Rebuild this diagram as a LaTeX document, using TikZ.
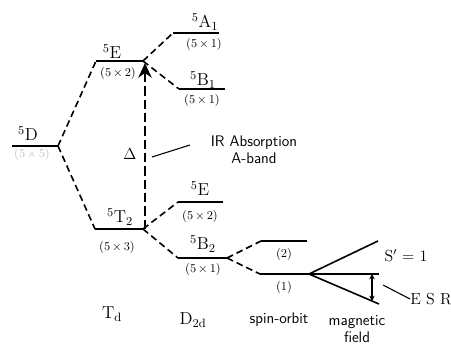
\documentclass[tikz,border=0pt]{standalone}
\usepackage{tikz}
\usetikzlibrary{arrows.meta,positioning}
\tikzset{
myLevel/.style={line width=1.2pt},
myLink/.style={line width=1.2pt,dash pattern=on 5pt off 3pt},
myPump/.style={line width=1.8pt,dash pattern=on 7pt off 3pt,
	-{Stealth[length=11pt,width=10pt]}},
myTerm/.style={inner sep=0pt,font=\fontsize{13}{13}\selectfont},
myDeg/.style={inner sep=0pt,font=\fontsize{9}{9}\selectfont},
myText/.style={inner sep=0pt,font=\sffamily\fontsize{11.5}{13}\selectfont,align=center},
myLabel/.style={inner sep=0pt,font=\fontsize{12}{13}\selectfont,align=center}
}

\begin{document}
\begin{tikzpicture}[x=0.75pt,y=-0.75pt]
	\useasboundingbox (0,0) rectangle (451,347);
	% level end points
	\coordinate (DL) at (12,146);   \coordinate (DR) at (58,146);
	\coordinate (EL) at (96,61);    \coordinate (ER) at (143,61);
	\coordinate (TL) at (95,229);   \coordinate (TR) at (143,229);
	\coordinate (AL) at (173,33);   \coordinate (AR) at (219,33);
	\coordinate (BL) at (179,89);   \coordinate (BR) at (225,89);
	\coordinate (E2L) at (178,202); \coordinate (E2R) at (223,202);
	\coordinate (B2L) at (178,258); \coordinate (B2R) at (227,258);
	\coordinate (SuL) at (261,241); \coordinate (SuR) at (307,241);
	\coordinate (SlL) at (260,274); \coordinate (SlR) at (309,274);
	\coordinate (Mup) at (378,241); \coordinate (Mmid) at (379,274);
	\coordinate (Mlo) at (379,304);
	% levels
	\foreach \a/\b in {DL/DR,EL/ER,TL/TR,AL/AR,BL/BR,E2L/E2R,B2L/B2R,SuL/SuR,SlL/SlR}
		\draw[myLevel] (\a) -- (\b);
	% correlation lines
	\draw[myLink] (DR) -- (EL);
	\draw[myLink] (DR) -- (TL);
	\draw[myLink] (ER) -- (AL);
	\draw[myLink] (ER) -- (BL);
	\draw[myLink] (TR) -- (E2L);
	\draw[myLink] (TR) -- (B2L);
	\draw[myLink] (B2R) -- (SuL);
	\draw[myLink] (B2R) -- (SlL);
	% magnetic field
	\draw[myLevel] (SlR) -- (Mup);
	\draw[myLevel] (SlR) -- (Mmid);
	\draw[myLevel] (SlR) -- (Mlo);
	\path (SlR) -- (Mlo) coordinate[pos=0.9] (MloA);
	\path (SlR) -- (Mmid) coordinate[pos=0.9] (MmidA);
	\draw[thick,{Stealth[length=4pt,width=4pt]}-{Stealth[length=4pt,width=4pt]}] (MmidA) -- (MloA);
	% absorption
	\coordinate (PumpTop) at (145,63);
	\coordinate (PumpBot) at (145,229);
	\draw[myPump] (PumpBot) -- (PumpTop);
	% terms
	\node[myTerm] (Dlab) at (28,134) {$^5$D};
	\node[myDeg,text=black!25] (Ddeg) at (32,154) {(5\,$\times$\,5)};
	\node[myTerm] (Elab) at (112,52) {$^5$E};
	\node[myDeg] (Edeg) at (118,73) {(5\,$\times$\,2)};
	\node[myTerm] (Tlab) at (120,217) {$^5$T\textsubscript{2}};
	\node[myDeg] (Tdeg) at (117,247) {(5\,$\times$\,3)};
	\node[myTerm] (Alab) at (205,22) {$^5$A\textsubscript{1}};
	\node[myDeg] (Adeg) at (204,44) {(5\,$\times$\,1)};
	\node[myTerm] (Blab) at (203,80) {$^5$B\textsubscript{1}};
	\node[myDeg] (Bdeg) at (202,100) {(5\,$\times$\,1)};
	\node[myTerm] (E2lab) at (200,189) {$^5$E};
	\node[myDeg] (E2deg) at (200,216) {(5\,$\times$\,2)};
	\node[myTerm] (B2lab) at (203,244) {$^5$B\textsubscript{2}};
	\node[myDeg] (B2deg) at (203,269) {(5\,$\times$\,1)};
	\node[myDeg] (Sudeg) at (284,254) {(2)};
	\node[myDeg] (Sldeg) at (284,287) {(1)};
	% labels
	\node[myTerm] (Delta) at (130,154) {$\Delta$};
	\node[myText] (IR) at (254,150) {IR Absorption\\A-band};
	\coordinate (IRfoot) at (152,157);
	\coordinate (IRtip) at (190,145);
	\draw[thick] (IRfoot) -- (IRtip);
	\node[myLabel] (Spin) at (406,256) {S$'$ = 1};
	\node[myLabel] (ESR) at (431,299) {E S R};
	\coordinate (ESRfoot) at (383,285);
	\draw[thick] (ESRfoot) -- (ESR.west);
	% groups
	\node[myLabel,font=\fontsize{13}{13}\selectfont] (Td) at (112,314) {T\textsubscript{d}};
	\node[myLabel,font=\fontsize{13}{13}\selectfont] (D2d) at (193,320) {D\textsubscript{2d}};
	\node[myText] (SO) at (279,320) {spin-orbit};
	\node[myText] (MF) at (357,329) {magnetic\\field};
\end{tikzpicture}
\end{document}
